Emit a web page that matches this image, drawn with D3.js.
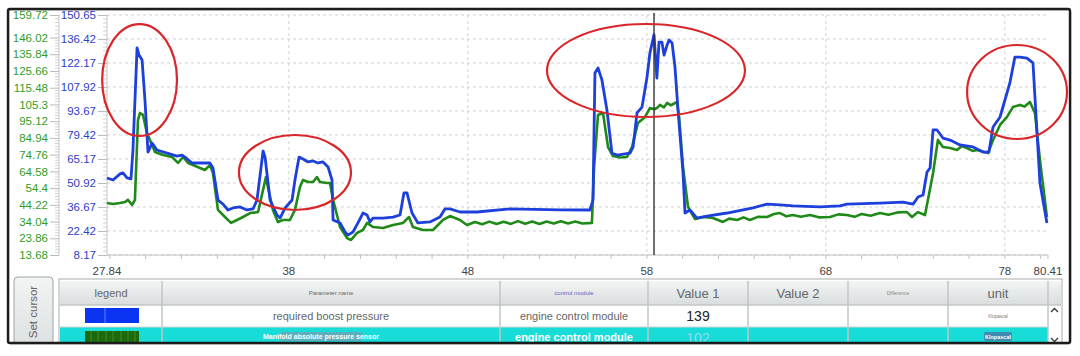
<!DOCTYPE html>
<html><head><meta charset="utf-8">
<script src="https://cdn.jsdelivr.net/npm/d3@7"></script>
<style>html,body{margin:0;padding:0;background:#fff;} svg{display:block;font-family:"Liberation Sans",Arial,sans-serif;}</style>
</head><body><svg id="chart" width="1080" height="356"></svg>
<script>
// ---------- data ----------
const blueTime=[27.84,28.18,28.57,28.73,28.96,29.18,29.29,29.52,29.63,29.80,29.96,30.13,30.24,30.35,30.63,31.19,31.75,32.03,32.20,32.59,33.04,33.59,33.76,34.04,34.32,34.60,34.88,35.27,35.66,36.00,36.22,36.56,36.67,36.95,37.34,37.51,37.79,38.18,38.34,38.57,38.79,39.07,39.35,39.63,39.91,40.19,40.41,40.47,40.86,41.14,41.30,41.58,41.86,42.14,42.37,42.53,42.70,43.26,43.82,44.21,44.43,44.60,44.88,45.21,45.88,46.44,46.72,47.00,47.56,48.51,50.35,53.15,54.82,54.99,55.10,55.27,55.49,55.77,56.05,56.33,57.06,57.23,57.45,57.73,58.01,58.17,58.40,58.56,58.68,58.84,58.96,59.13,59.24,59.41,59.57,59.74,60.02,60.13,60.41,60.80,61.36,62.48,63.93,64.71,65.44,66.16,67.67,68.79,69.18,71.02,72.31,72.87,73.15,73.43,73.65,73.82,73.99,74.21,74.54,74.94,75.49,76.22,76.78,77.11,77.34,77.73,78.28,78.56,78.84,79.23,79.57,79.96,80.35];
const blueValue=[53.9,52.7,56.3,56.9,53.9,53.3,70.5,131.1,126.9,123.9,100.2,69.3,71.7,74.7,70.5,68.7,66.9,67.5,66.3,62.8,62.8,62.8,59.8,40.8,38.4,34.9,36.1,36.7,34.9,35.5,40.8,69.9,66.3,40.8,31.9,30.1,36.1,40.8,52.7,66.3,65.2,63.4,64.0,62.8,63.4,60.4,52.7,29.0,27.2,21.8,20.0,21.8,27.2,33.1,31.9,27.8,30.1,30.1,30.7,31.9,45.0,45.0,33.1,27.2,27.8,30.7,35.5,35.5,33.7,33.7,35.5,34.9,34.9,40.8,116.2,119.2,112.1,94.3,68.7,67.5,68.7,72.3,92.5,96.0,113.8,128.1,139.0,113.2,134.6,134.6,126.9,132.8,135.8,134.0,119.8,94.3,56.9,33.1,34.9,30.1,31.3,33.1,36.1,38.4,37.9,37.3,36.7,37.3,38.4,39.0,39.6,38.4,42.6,43.8,57.4,59.8,82.4,82.4,77.6,76.4,73.5,72.3,69.3,69.3,84.2,90.1,110.3,125.7,125.7,125.1,122.2,50.9,27.2];
const greenTime=[27.84,28.18,28.57,28.85,29.01,29.24,29.40,29.57,29.68,29.85,30.07,30.24,30.52,30.97,31.47,31.81,32.09,32.37,32.64,33.04,33.31,33.59,33.76,34.04,34.43,34.77,35.10,35.44,35.83,36.28,36.72,36.83,37.11,37.39,37.67,38.06,38.34,38.62,38.79,39.07,39.35,39.57,39.74,40.13,40.30,40.47,40.86,41.25,41.47,41.81,42.14,42.37,42.70,43.26,43.82,44.38,44.71,44.93,45.49,46.05,46.61,47.00,47.56,47.95,48.40,48.80,49.20,49.60,50.00,50.40,50.80,51.20,51.60,52.00,52.40,52.80,53.20,53.60,54.00,54.40,54.93,55.05,55.27,55.55,55.83,56.11,56.50,56.89,57.17,57.50,57.90,58.17,58.40,58.56,58.73,58.95,59.13,59.35,59.68,59.80,60.02,60.30,60.69,61.14,61.69,62.25,62.60,63.04,63.40,63.76,64.20,64.71,65.10,65.44,65.80,66.16,66.60,67.11,67.60,68.23,68.70,69.18,69.60,70.00,70.50,71.02,71.50,72.00,72.53,72.81,73.15,73.54,73.99,74.26,74.54,74.94,75.33,75.60,75.88,76.20,76.44,77.06,77.34,77.73,78.12,78.45,78.84,79.10,79.40,79.68,79.96,80.35];
const greenValue=[45.3,44.7,45.3,45.9,47.2,44.1,47.2,95.8,100.1,98.9,87.9,83.7,76.4,74.5,73.3,69.7,73.3,69.7,68.4,66.6,65.4,68.4,63.6,41.1,36.8,33.2,35.0,36.8,39.2,39.8,61.1,55.1,41.1,33.8,35.0,35.0,41.1,55.1,59.3,58.1,58.1,61.1,58.1,57.5,57.5,47.2,30.7,24.0,22.8,27.1,28.9,33.2,30.7,30.1,31.9,33.2,36.8,30.7,28.9,28.9,35.0,37.4,35.0,31.9,33.8,32.4,34.0,32.5,33.9,32.6,34.3,32.7,34.0,32.6,34.1,32.8,34.2,32.9,34.1,32.8,33.2,67.2,98.9,100.1,79.4,73.9,73.0,73.3,79.4,94.0,97.7,103.1,102.4,103.1,105.0,103.5,106.2,104.8,106.8,97.7,67.2,42.9,35.6,36.8,36.2,33.8,35.8,35.0,36.6,35.0,36.9,36.8,38.6,39.2,37.2,38.0,37.0,38.0,36.6,36.8,38.4,38.0,36.9,38.6,37.6,39.2,38.2,39.6,39.8,36.8,39.8,38.0,63.6,83.7,79.4,78.8,77.6,80.0,78.8,77.0,77.6,75.7,83.7,92.8,97.7,103.7,105.0,104.0,106.8,100.1,71.5,36.8];
const blueTicks=[8.17,22.42,36.67,50.92,65.17,79.42,93.67,107.92,122.17,136.42,150.65];
const greenTicks=[13.68,23.86,34.04,44.22,54.4,64.58,74.76,84.94,95.12,105.3,115.48,125.66,135.84,146.02,159.72];
const xTickLabels=[27.84,38,48,58,68,78,80.41];
const xGridValues=[38,48,58,68,78];
const cursorTime=58.40;
// annotation ellipses: centre (time, blue-axis value), radii (time units, blue-axis units)
const annotations=[{t:29.66,v:112.06,rt:2.09,rv:33.2},{t:38.34,v:57.15,rt:3.13,rv:22.26},{t:57.95,v:117.7,rt:5.53,rv:27.6},{t:78.68,v:104.94,rt:2.79,rv:27.9}];
const tableColumns=["legend","Parameter name","control module","Value 1","Value 2","Difference","unit"];
const rowNames=["required boost pressure","Manifold absolute pressure sensor"];
const rowModules=["engine control module","engine control module"];
const rowValue1=["139","102"];
const rowUnits=["Klopascal","Klopascal"];

// ---------- chart ----------
const svg=d3.select("#chart");
const defs=svg.append("defs");
const hg=defs.append("linearGradient").attr("id","hdr").attr("x1",0).attr("y1",0).attr("x2",0).attr("y2",1);
hg.append("stop").attr("offset","0").attr("stop-color","#f3f5f5");
hg.append("stop").attr("offset","1").attr("stop-color","#d9dddd");
const cl=defs.append("clipPath").attr("id","frameclip");
cl.append("rect").attr("x",9).attr("y",10).attr("width",1060).attr("height",332);

const L=107,R=1048,T=15,B=255;
const x=d3.scaleLinear().domain([27.84,80.41]).range([L,R]);
const yB=d3.scaleLinear().domain([8.17,150.65]).range([B,T]);
const yG=d3.scaleLinear().domain([13.68,159.72]).range([B,T]);

const g=svg.append("g").attr("clip-path","url(#frameclip)");

// grid
g.append("g").selectAll("line").data(blueTicks).join("line")
 .attr("x1",L).attr("x2",R).attr("y1",d=>yB(d)).attr("y2",d=>yB(d))
 .attr("stroke","#cfd2d2").attr("stroke-dasharray","3,3").attr("stroke-width",1);
g.append("g").selectAll("line").data(xGridValues).join("line")
 .attr("x1",d=>x(d)).attr("x2",d=>x(d)).attr("y1",T).attr("y2",B)
 .attr("stroke","#cfd2d2").attr("stroke-dasharray","3,3").attr("stroke-width",1);

// x axis
g.append("line").attr("x1",L).attr("x2",R).attr("y1",B).attr("y2",B).attr("stroke","#bfc3c3").attr("stroke-width",1.2);
const xMinor=d3.range(28,81,2).concat([80.41]);
g.append("g").selectAll("line").data(xMinor).join("line")
 .attr("x1",d=>x(d)).attr("x2",d=>x(d)).attr("y1",B).attr("y2",B+4)
 .attr("stroke","#bfc3c3").attr("stroke-width",1);
g.append("g").selectAll("text").data(xTickLabels).join("text")
 .attr("x",d=>x(d)).attr("y",275).attr("text-anchor","middle")
 .attr("font-size",11.5).attr("fill","#444").text(d=>d);

// y axes rulers
function ruler(xPos, scale, ticks, subdiv, color){
  const ga=g.append("g");
  ga.append("line").attr("x1",xPos).attr("x2",xPos).attr("y1",T).attr("y2",B).attr("stroke","#c4c8c8");
  const minors=[];
  for(let i=0;i<ticks.length-1;i++){
    const a=ticks[i],b=ticks[i+1];
    for(let k=1;k<subdiv;k++) minors.push(a+(b-a)*k/subdiv);
  }
  ga.selectAll("line.mn").data(minors).join("line").attr("class","mn")
    .attr("x1",xPos-4).attr("x2",xPos).attr("y1",d=>scale(d)).attr("y2",d=>scale(d))
    .attr("stroke","#c4c8c8").attr("stroke-width",0.8);
  const axis=d3.axisLeft(scale).tickValues(ticks).tickSize(9).tickPadding(2).tickFormat(d=>d);
  const ax=ga.append("g").attr("transform",`translate(${xPos},0)`).call(axis);
  ax.select(".domain").remove();
  ax.selectAll("line").attr("stroke","#b8bcbc");
  ax.selectAll("text").attr("fill",color).attr("font-size",11.5).attr("font-family","Liberation Sans, Arial, sans-serif");
}
ruler(59,yG,greenTicks,6,"#2f9e1f");
ruler(L,yB,blueTicks,6,"#2b3ec4");

// lines
const greenLine=d3.line().x((d,i)=>x(greenTime[i])).y(d=>yG(d));
const blueLine=d3.line().x((d,i)=>x(blueTime[i])).y(d=>yB(d));
g.append("path").datum(greenValue).attr("d",greenLine).attr("fill","none")
 .attr("stroke","#1f8a17").attr("stroke-width",2.6).attr("stroke-linejoin","round");
g.append("path").datum(blueValue).attr("d",blueLine).attr("fill","none")
 .attr("stroke","#1d3fdc").attr("stroke-width",2.8).attr("stroke-linejoin","round");

// cursor
g.append("line").attr("x1",x(cursorTime)).attr("x2",x(cursorTime)).attr("y1",13).attr("y2",B)
 .attr("stroke","#333").attr("stroke-width",1.4);

// annotations
g.append("g").selectAll("ellipse").data(annotations).join("ellipse")
 .attr("cx",d=>x(d.t)).attr("cy",d=>yB(d.v))
 .attr("rx",d=>x(d.t+d.rt)-x(d.t)).attr("ry",d=>yB(d.v)-yB(d.v+d.rv))
 .attr("fill","none").attr("stroke","#d8262a").attr("stroke-width",2.2);

// ---------- Set cursor button ----------
g.append("rect").attr("x",14).attr("y",277).attr("width",39).attr("height",80).attr("rx",4)
 .attr("fill","url(#hdr)").attr("stroke","#9ea4a4");
g.append("text").attr("transform","translate(37,312) rotate(-90)").attr("text-anchor","middle")
 .attr("font-size",11.5).attr("fill","#666").text("Set cursor");

// ---------- table ----------
const colX=[60,162,500,648,748,848,948,1048,1061];
const hdrT=281,hdrB=305,r1B=327,r2B=356;
const tb=g.append("g");
tb.append("rect").attr("x",59).attr("y",279).attr("width",1003).attr("height",80).attr("fill","#fff").attr("stroke","#a9aeae");
tb.append("rect").attr("x",60).attr("y",hdrT).attr("width",1001).attr("height",hdrB-hdrT).attr("fill","url(#hdr)");
tb.append("rect").attr("x",60).attr("y",r1B).attr("width",988).attr("height",r2B-r1B).attr("fill","#17dcd8");
// column separators
tb.selectAll("line.cs").data(colX.slice(1,-1)).join("line").attr("class","cs")
 .attr("x1",d=>d).attr("x2",d=>d).attr("y1",hdrT).attr("y2",r2B).attr("stroke","#c2c6c6").attr("stroke-width",1.5);
tb.append("line").attr("x1",60).attr("x2",1061).attr("y1",hdrB).attr("y2",hdrB).attr("stroke","#c2c6c6").attr("stroke-width",1.5);
tb.append("line").attr("x1",60).attr("x2",1048).attr("y1",r1B).attr("y2",r1B).attr("stroke","#d0d4d4").attr("stroke-width",1);
const hdrStyle=[{s:11,c:"#666"},{s:6,c:"#666"},{s:6,c:"#6a5cc0"},{s:13,c:"#666"},{s:13,c:"#666"},{s:5,c:"#888"},{s:13,c:"#666"}];
tb.selectAll("text.h").data(tableColumns).join("text").attr("class","h")
 .attr("x",(d,i)=>(colX[i]+colX[i+1])/2).attr("y",293).attr("dy","0.35em").attr("text-anchor","middle")
 .attr("font-size",(d,i)=>hdrStyle[i].s).attr("fill",(d,i)=>hdrStyle[i].c).text(d=>d);
// legend swatches
tb.append("rect").attr("x",85).attr("y",308).attr("width",54).attr("height",15).attr("fill","#0a33f2");
tb.append("line").attr("x1",105).attr("x2",105).attr("y1",308).attr("y2",323).attr("stroke","#5f86ff").attr("stroke-width",1);
tb.append("rect").attr("x",85).attr("y",331).attr("width",54).attr("height",20).attr("fill","#1c6a0c");
tb.selectAll("line.gs").data([91,98,106,113,121,128,135]).join("line").attr("class","gs")
 .attr("x1",d=>d).attr("x2",d=>d).attr("y1",331).attr("y2",351).attr("stroke","#3c8c24").attr("stroke-width",1);
// row 1
const ry1=316, ry2=337;
tb.append("text").attr("x",331).attr("y",ry1).attr("dy","0.35em").attr("text-anchor","middle").attr("font-size",11).attr("fill","#666").text(rowNames[0]);
tb.append("text").attr("x",574).attr("y",ry1).attr("dy","0.35em").attr("text-anchor","middle").attr("font-size",11).attr("fill","#666").text(rowModules[0]);
tb.append("text").attr("x",698).attr("y",ry1).attr("dy","0.35em").attr("text-anchor","middle").attr("font-size",14).attr("fill","#222").text(rowValue1[0]);
tb.append("text").attr("x",998).attr("y",ry1).attr("dy","0.35em").attr("text-anchor","middle").attr("font-size",4.5).attr("fill","#777").text(rowUnits[0]);
// row 2
tb.append("rect").attr("x",280).attr("y",332).attr("width",82).attr("height",9).attr("rx",2).attr("fill","#6fa4b8").attr("opacity",0.8);
tb.append("text").attr("x",321).attr("y",ry2).attr("dy","0.35em").attr("text-anchor","middle").attr("font-size",7).attr("font-weight","bold").attr("fill","#fff").text(rowNames[1]);
tb.append("text").attr("x",574).attr("y",ry2).attr("dy","0.35em").attr("text-anchor","middle").attr("font-size",11).attr("font-weight","bold").attr("fill","#fff").text(rowModules[1]);
tb.append("text").attr("x",698).attr("y",ry2+1).attr("dy","0.35em").attr("text-anchor","middle").attr("font-size",14).attr("fill","#8edcf3").text(rowValue1[1]);
tb.append("rect").attr("x",984).attr("y",332).attr("width",28).attr("height",9).attr("rx",1.5).attr("fill","#3d8db3");
tb.append("text").attr("x",998).attr("y",ry2).attr("dy","0.35em").attr("text-anchor","middle").attr("font-size",5.5).attr("font-weight","bold").attr("fill","#fff").text(rowUnits[1]);
// scroll arrows
tb.append("path").attr("d","M1051,312 L1054.5,308.5 L1058,312").attr("fill","none").attr("stroke","#333").attr("stroke-width",1.3);
tb.append("path").attr("d","M1051,338 L1054.5,341.5 L1058,338").attr("fill","none").attr("stroke","#333").attr("stroke-width",1.3);

// frame
svg.append("rect").attr("x",9).attr("y",10).attr("width",1062).attr("height",334).attr("rx",2)
 .attr("fill","none").attr("stroke","#999").attr("stroke-width",1).attr("opacity",0.6);
svg.append("rect").attr("x",8).attr("y",9).attr("width",1062).attr("height",334).attr("rx",2)
 .attr("fill","none").attr("stroke","#1c1c1c").attr("stroke-width",2.4);
</script></body></html>
